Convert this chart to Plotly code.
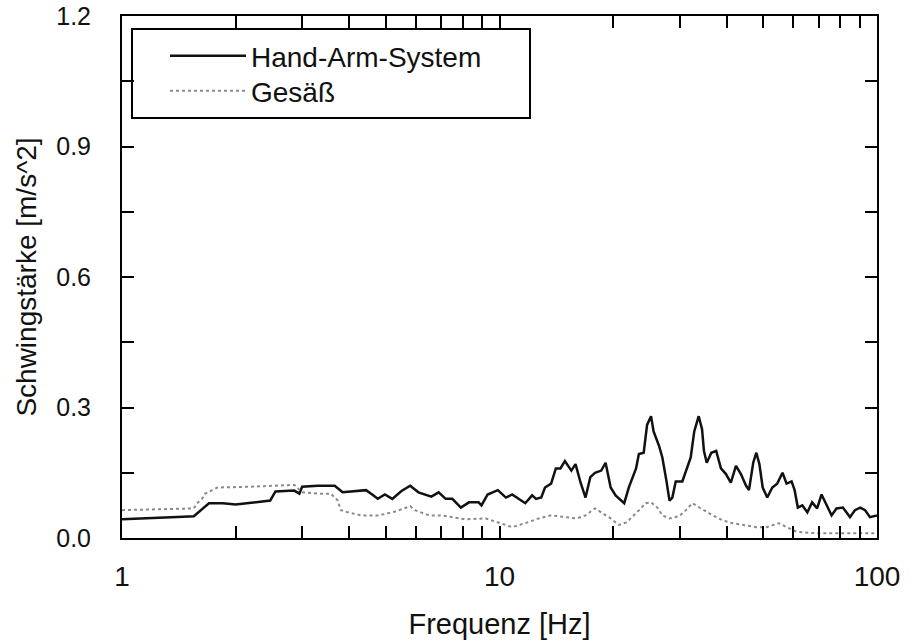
import plotly.graph_objects as go

# ---- data ----
hand_freq = [1.0, 1.2, 1.4, 1.55, 1.62, 1.70, 1.85, 2.0, 2.2, 2.47, 2.55, 2.86, 2.95, 3.0, 3.3, 3.66,
             3.84, 4.1, 4.43, 4.6, 4.76, 4.97, 5.2, 5.5, 5.8, 6.1, 6.6, 6.9, 7.2, 7.5, 7.9, 8.3,
             8.8, 8.96, 9.3, 9.9, 10.4, 10.8, 11.2, 11.7, 12.2, 12.5, 12.9, 13.2, 13.7, 14.1, 14.5,
             14.9, 15.5, 15.9, 16.4, 16.9, 17.4, 17.9, 18.6, 19.1, 19.7, 20.3, 21.4, 22.0, 23.0,
             23.4, 24.1, 24.6, 25.2, 25.6, 26.5, 27.0, 27.7, 28.2, 28.7, 29.3, 30.5, 31.2, 32.1,
             32.8, 33.7, 34.4, 34.8, 35.4, 36.4, 37.5, 38.6, 39.8, 41.0, 42.3, 43.6, 45.0, 45.8,
             47.0, 47.9, 48.8, 49.8, 51.2, 52.8, 54.4, 56.2, 57.6, 59.4, 60.5, 61.7, 63.4, 65.4,
             67.3, 69.4, 71.3, 73.5, 75.8, 78.1, 81.2, 84.8, 87.4, 90.3, 93.0, 95.8, 100.0]
hand_vals = [0.043, 0.045, 0.048, 0.050, 0.065, 0.080, 0.080, 0.077, 0.081, 0.086, 0.107, 0.109, 0.102,
             0.118, 0.120, 0.120, 0.105, 0.107, 0.110, 0.100, 0.090, 0.100, 0.090, 0.108, 0.120, 0.105,
             0.095, 0.105, 0.090, 0.090, 0.070, 0.082, 0.082, 0.075, 0.100, 0.110, 0.093, 0.100, 0.090,
             0.080, 0.098, 0.090, 0.093, 0.116, 0.125, 0.160, 0.160, 0.177, 0.155, 0.170, 0.127, 0.093,
             0.140, 0.150, 0.155, 0.173, 0.116, 0.098, 0.080, 0.116, 0.160, 0.193, 0.196, 0.260, 0.280,
             0.245, 0.210, 0.185, 0.130, 0.086, 0.093, 0.130, 0.130, 0.155, 0.185, 0.245, 0.280, 0.250,
             0.200, 0.173, 0.196, 0.200, 0.160, 0.147, 0.127, 0.166, 0.147, 0.120, 0.110, 0.173, 0.196,
             0.170, 0.116, 0.093, 0.116, 0.125, 0.150, 0.125, 0.130, 0.110, 0.070, 0.075, 0.059, 0.082,
             0.068, 0.100, 0.075, 0.052, 0.068, 0.070, 0.048, 0.064, 0.070, 0.064, 0.048, 0.052]

seat_freq = [1.0, 1.3, 1.55, 1.58, 1.63, 1.66, 1.73, 1.79, 2.2, 2.86, 3.0, 3.3, 3.57, 3.73, 3.8, 3.97,
             4.3, 4.8, 5.3, 5.8, 5.97, 6.5, 7.0, 7.4, 8.1, 9.2, 10.1, 10.8, 11.7, 12.7, 13.7, 14.3,
             14.9, 16.0, 16.9, 17.9, 18.6, 19.7, 20.7, 21.7, 23.0, 24.4, 25.2, 26.2, 27.0, 28.2, 29.9,
             31.2, 32.4, 33.1, 34.4, 35.9, 37.5, 38.9, 41.4, 43.9, 47.9, 51.0, 55.0, 57.6, 61.3, 69.0,
             80.0, 100.0]
seat_vals = [0.064, 0.066, 0.068, 0.080, 0.090, 0.102, 0.110, 0.116, 0.118, 0.122, 0.105, 0.102, 0.102,
             0.086, 0.064, 0.059, 0.052, 0.052, 0.061, 0.073, 0.064, 0.052, 0.052, 0.048, 0.043, 0.045,
             0.034, 0.025, 0.034, 0.045, 0.052, 0.050, 0.048, 0.045, 0.052, 0.068, 0.059, 0.045, 0.030,
             0.036, 0.057, 0.080, 0.082, 0.070, 0.052, 0.045, 0.050, 0.064, 0.080, 0.075, 0.068, 0.057,
             0.048, 0.041, 0.034, 0.030, 0.025, 0.025, 0.034, 0.025, 0.014, 0.011, 0.011, 0.011]

x_tickvals = [1, 2, 3, 4, 5, 6, 7, 8, 9, 10, 20, 30, 40, 50, 60, 70, 80, 90, 100]
x_ticktext = ["1", "", "", "", "", "", "", "", "", "10", "", "", "", "", "", "", "", "", "100"]
y_tickvals = [0.0, 0.15, 0.3, 0.45, 0.6, 0.75, 0.9, 1.05, 1.2]
y_ticktext = ["0.0", "", "0.3", "", "0.6", "", "0.9", "", "1.2"]

FONT = "Liberation Sans, Arial, sans-serif"

fig = go.Figure()
fig.add_trace(go.Scatter(x=hand_freq, y=hand_vals, mode="lines", name="Hand-Arm-System",
                         legend="legend",
                         line=dict(color="#111111", width=2.5)))
fig.add_trace(go.Scatter(x=seat_freq, y=seat_vals, mode="lines", name="Gesäß",
                         legend="legend2",
                         line=dict(color="#8a8a8a", width=2, dash="dot")))

# legend frame
L, R, T, B = 122, 877, 16, 538
W, H = R - L, B - T
fig.add_shape(type="rect", xref="paper", yref="paper",
              x0=(132 - L) / W, x1=(530 - L) / W, y0=(B - 118) / H, y1=(B - 29) / H,
              line=dict(color="black", width=2), fillcolor="white", layer="below")

leg_common = dict(xanchor="left", yanchor="middle", bgcolor="rgba(0,0,0,0)", borderwidth=0,
                  itemwidth=76, font=dict(family=FONT, size=28, color="#111111"))

fig.update_layout(
    width=915, height=640,
    margin=dict(l=L, r=915 - R, t=T, b=640 - B, autoexpand=False),
    paper_bgcolor="white", plot_bgcolor="white",
    font=dict(family=FONT, size=22, color="#111111"),
    showlegend=True,
    legend=dict(x=(165 - L) / W, y=(B - 56) / H, **leg_common),
    legend2=dict(x=(165 - L) / W, y=(B - 91) / H, **leg_common),
    xaxis=dict(type="log", range=[0, 2], tickvals=x_tickvals, ticktext=x_ticktext,
               ticks="inside", ticklen=12, tickwidth=2, tickcolor="black",
               showline=True, linecolor="black", linewidth=2, mirror="allticks",
               showgrid=False, zeroline=False, ticklabelstandoff=12, automargin=False,
               ticklabeloverflow="allow",
               tickfont=dict(size=28),
               title=dict(text="Frequenz [Hz]", font=dict(size=29), standoff=24)),
    yaxis=dict(range=[0, 1.2], tickvals=y_tickvals, ticktext=y_ticktext,
               ticks="inside", ticklen=12, tickwidth=2, tickcolor="black",
               showline=True, linecolor="black", linewidth=2, mirror="allticks",
               showgrid=False, zeroline=False, ticklabelstandoff=24, automargin=False,
               ticklabeloverflow="allow",
               tickfont=dict(size=25),
               title=dict(text="Schwingstärke [m/s^2]", font=dict(size=28), standoff=11)),
)

fig.write_html("out.html")
